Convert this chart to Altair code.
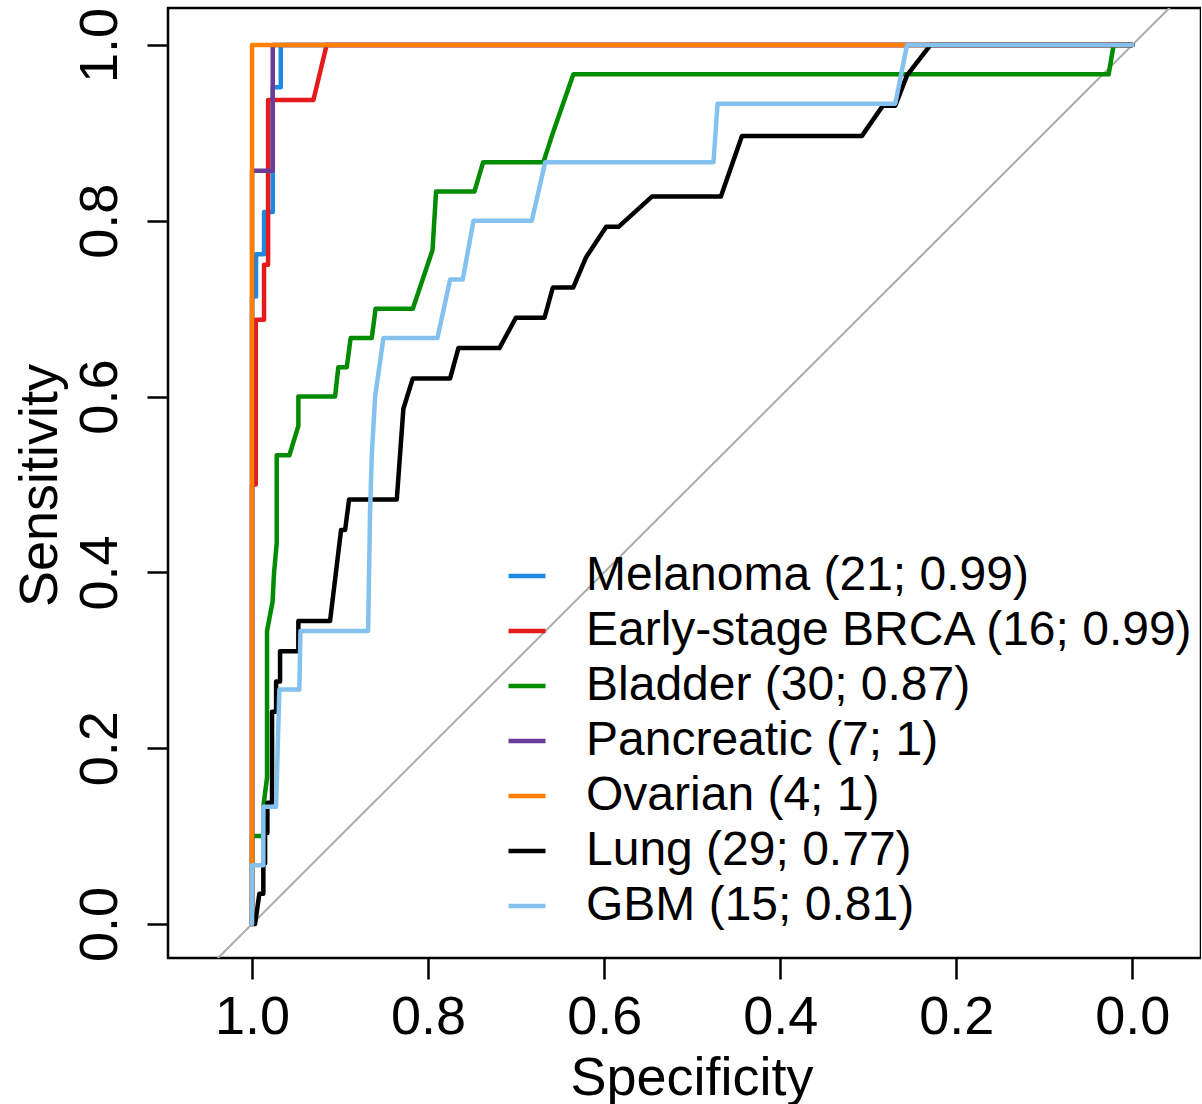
import altair as alt
import pandas as pd

series_names = ["Melanoma (21; 0.99)", "Early-stage BRCA (16; 0.99)", "Bladder (30; 0.87)",
                "Pancreatic (7; 1)", "Ovarian (4; 1)", "Lung (29; 0.77)", "GBM (15; 0.81)"]
series_colors = ["#1E88E5", "#E41A1C", "#008B00", "#6A3D9A", "#FF7F00", "#000000", "#85C1EE"]

melanoma_spec = [1, 1, 0.9955, 0.9955, 0.9864, 0.9864, 0.9765, 0.9765, 0.9674, 0.9674, 0]
melanoma_sens = [0, 0.714, 0.714, 0.762, 0.762, 0.810, 0.810, 0.952, 0.952, 1, 1]

brca_spec = [1, 1, 0.9958, 0.9958, 0.9864, 0.9864, 0.9818, 0.9818, 0.9303, 0.9153, 0]
brca_sens = [0, 0.5, 0.5, 0.6875, 0.6875, 0.75, 0.75, 0.9375, 0.9375, 1, 1]

bladder_spec = [1, 1, 0.9872, 0.9872, 0.983, 0.983, 0.9767, 0.975, 0.972, 0.972, 0.9576, 0.9474,
                0.9474, 0.9057, 0.902, 0.8924, 0.888, 0.864, 0.8597, 0.8174, 0.795, 0.791, 0.7474,
                0.7375, 0.669, 0.6583, 0.635, 0.0269, 0.0213, 0]
bladder_sens = [0, 0.1, 0.1, 0.1333, 0.1667, 0.3333, 0.3667, 0.4, 0.4333, 0.5333, 0.5333, 0.5667,
                0.6, 0.6, 0.6333, 0.6333, 0.6667, 0.6667, 0.7, 0.7, 0.7667, 0.8333, 0.8333,
                0.8667, 0.8667, 0.9, 0.9667, 0.9667, 1, 1]

pancreatic_spec = [1, 1, 0.9765, 0.9765, 0]
pancreatic_sens = [0, 0.857, 0.857, 1, 1]

ovarian_spec = [1, 1, 0]
ovarian_sens = [0, 1, 1]

lung_spec = [1, 0.9966, 0.9917, 0.9872, 0.9872, 0.9852, 0.9852, 0.9826, 0.9826, 0.9773, 0.9773,
             0.9727, 0.9727, 0.9682, 0.9682, 0.9474, 0.9474, 0.9114, 0.8989, 0.8943, 0.8898,
             0.8356, 0.8281, 0.8174, 0.775, 0.7656, 0.719, 0.7003, 0.6678, 0.6583, 0.6352,
             0.6205, 0.5977, 0.5837, 0.5458, 0.4674, 0.4435, 0.3072, 0.2834, 0.2693, 0.256,
             0.2295, 0]
lung_sens = [0, 0, 0.0345, 0.0345, 0.069, 0.069, 0.1034, 0.1034, 0.1379, 0.1379, 0.2414,
             0.2414, 0.2759, 0.2759, 0.3103, 0.3103, 0.3448, 0.3448, 0.4483, 0.4483, 0.4828,
             0.4828, 0.5862, 0.6207, 0.6207, 0.6552, 0.6552, 0.6897, 0.6897, 0.7241, 0.7241,
             0.7586, 0.7931, 0.7931, 0.8276, 0.8276, 0.8966, 0.8966, 0.931, 0.931, 0.9655,
             1, 1]

gbm_spec = [1, 1, 0.9872, 0.9872, 0.9727, 0.969, 0.9463, 0.945, 0.8682, 0.866, 0.864, 0.8602,
            0.8508, 0.7894, 0.775, 0.7606, 0.7485, 0.6822, 0.667, 0.4758, 0.4712, 0.2693,
            0.256, 0]
gbm_sens = [0, 0.0667, 0.0667, 0.1333, 0.1333, 0.2667, 0.2667, 0.3333, 0.3333, 0.4667, 0.5333,
            0.6, 0.6667, 0.6667, 0.7333, 0.7333, 0.8, 0.8, 0.8667, 0.8667, 0.9333, 0.9333,
            1, 1]

diag_spec = [1.3, -0.3]
diag_sens = [-0.3, 1.3]

x_ticks = [0.0, 0.2, 0.4, 0.6, 0.8, 1.0]
y_ticks = [0.0, 0.2, 0.4, 0.6, 0.8, 1.0]

all_spec = [melanoma_spec, brca_spec, bladder_spec, pancreatic_spec, ovarian_spec, lung_spec, gbm_spec]
all_sens = [melanoma_sens, brca_sens, bladder_sens, pancreatic_sens, ovarian_sens, lung_sens, gbm_sens]

FONT = "Liberation Sans"
W, H = 1033, 950

xscale = alt.Scale(domain=[-0.078, 1.0955], reverse=True, nice=False, zero=False)
yscale = alt.Scale(domain=[-0.0387, 1.0421], nice=False, zero=False)

xaxis = alt.Axis(values=x_ticks, format=".1f", title="Specificity", grid=False, domain=False,
                 tickSize=21, tickWidth=2.5, tickColor="black",
                 labelFont=FONT, labelFontSize=54, labelColor="black",
                 labelBaseline="alphabetic", labelPadding=54, labelFlush=False,
                 titleFont=FONT, titleFontSize=54, titleFontWeight="normal", titleColor="black",
                 titleBaseline="alphabetic", titleX=W / 2 + 7, titleY=136, titleAlign="center")
yaxis = alt.Axis(values=y_ticks, format=".1f", title="Sensitivity", grid=False, domain=False,
                 tickSize=21, tickWidth=2.5, tickColor="black",
                 labelFont=FONT, labelFontSize=54, labelColor="black", labelAngle=270,
                 labelAlign="center", labelBaseline="alphabetic", labelPadding=31, labelFlush=False,
                 titleFont=FONT, titleFontSize=54, titleFontWeight="normal", titleColor="black",
                 titleAngle=270, titleAlign="center", titleBaseline="alphabetic",
                 titleX=-112, titleY=H / 2 + 2)

diag_df = pd.DataFrame({"spec": diag_spec, "sens": diag_sens})
diag = alt.Chart(diag_df).mark_line(color="#AAAAAA", strokeWidth=2, clip=True).encode(
    x=alt.X("spec:Q", scale=xscale, axis=xaxis),
    y=alt.Y("sens:Q", scale=yscale, axis=yaxis),
)

color_scale = alt.Scale(domain=series_names, range=series_colors)
legend = alt.Legend(title=None, orient="none", legendX=335, legendY=544, symbolType="stroke",
                    symbolSize=1369, symbolStrokeWidth=4.5, labelFont=FONT, labelFontSize=48,
                    labelColor="black", labelOffset=35, rowPadding=7, padding=0, labelLimit=2000,
                    symbolOpacity=1)

layers = [diag]
for name, sp, se in zip(series_names, all_spec, all_sens):
    df = pd.DataFrame({"series": name, "spec": sp, "sens": se, "i": list(range(len(sp)))})
    layers.append(
        alt.Chart(df).mark_line(strokeWidth=4.5, clip=True, strokeJoin="round", strokeCap="round").encode(
            x=alt.X("spec:Q", scale=xscale, axis=xaxis),
            y=alt.Y("sens:Q", scale=yscale, axis=yaxis),
            color=alt.Color("series:N", scale=color_scale, legend=legend),
            order=alt.Order("i:Q"),
        )
    )

chart = alt.layer(*layers).properties(
    width=W, height=H,
    autosize=alt.AutoSizeParams(type="none"),
    padding={"left": 168, "top": 8, "right": 0, "bottom": 146},
    background="white",
).configure_view(stroke="black", strokeWidth=2.5)

chart.save("out.html", embed_options={"renderer": "svg", "actions": False})
